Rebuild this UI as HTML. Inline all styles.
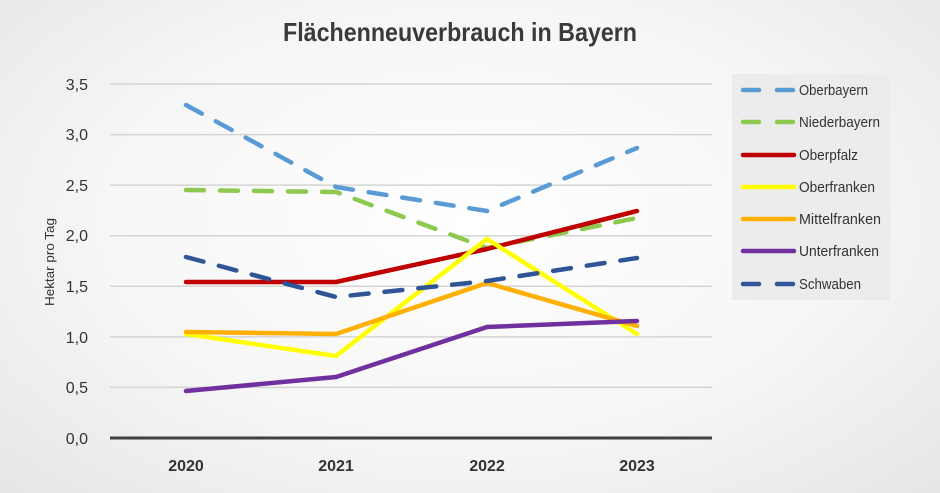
<!DOCTYPE html>
<html><head><meta charset="utf-8"><style>
html,body{margin:0;padding:0}
body{width:940px;height:493px;overflow:hidden;background:radial-gradient(ellipse at 50% 45%,#ffffff 0%,#f6f6f6 55%,#e6e6e6 100%);font-family:"Liberation Sans",sans-serif}
</style></head><body>
<svg width="940" height="493" xmlns="http://www.w3.org/2000/svg" style="position:absolute;left:0;top:0">
<text x="283" y="41" textLength="354" lengthAdjust="spacingAndGlyphs" font-size="26" font-weight="bold" fill="#3a3a3a" font-family="Liberation Sans, sans-serif">Flächenneuverbrauch in Bayern</text>
<g stroke="#d4d4d4" stroke-width="1.5">
<line x1="110" x2="712" y1="84" y2="84"/><line x1="110" x2="712" y1="134.6" y2="134.6"/><line x1="110" x2="712" y1="185.1" y2="185.1"/><line x1="110" x2="712" y1="235.7" y2="235.7"/><line x1="110" x2="712" y1="286.3" y2="286.3"/><line x1="110" x2="712" y1="336.9" y2="336.9"/><line x1="110" x2="712" y1="387.4" y2="387.4"/>
</g>
<line x1="110" x2="712" y1="438" y2="438" stroke="#404040" stroke-width="3"/>
<g font-size="16" fill="#333" text-anchor="end" font-family="Liberation Sans, sans-serif">
<text x="88" y="90">3,5</text><text x="88" y="140">3,0</text><text x="88" y="191">2,5</text><text x="88" y="241">2,0</text><text x="88" y="292">1,5</text><text x="88" y="343">1,0</text><text x="88" y="393">0,5</text><text x="88" y="444">0,0</text>
</g>
<g font-size="16" fill="#333" text-anchor="middle" font-weight="bold" font-family="Liberation Sans, sans-serif">
<text x="186" y="471">2020</text><text x="336" y="471">2021</text><text x="487" y="471">2022</text><text x="637" y="471">2023</text>
</g>
<text transform="translate(54,262) rotate(-90)" x="-44" textLength="88" lengthAdjust="spacingAndGlyphs" font-size="13" fill="#333" font-family="Liberation Sans, sans-serif">Hektar pro Tag</text>
<g fill="none" stroke-width="4.5" stroke-linecap="round" stroke-linejoin="round">
<polyline points="186,105 336,187 487,211 637,148" stroke="#5b9bd5" stroke-dasharray="18,16"/>
<polyline points="186,190 336,192 487,248 637,218" stroke="#8dc84f" stroke-dasharray="18,16"/>
<polyline points="186,282 336,282 487,249 637,211" stroke="#c00000"/>
<polyline points="186,334 336,356 487,239 637,334" stroke="#ffff00"/>
<polyline points="186,332 336,334 487,283 637,326" stroke="#ffb000"/>
<polyline points="186,391 336,377 487,327 637,321" stroke="#7030a0"/>
<polyline points="186,257 336,297 487,281 637,258" stroke="#2f5597" stroke-dasharray="18,16"/>
</g>
<rect x="732" y="74" width="158" height="226" fill="#ececec"/>
<g stroke-width="4.5" stroke-linecap="round">
<line x1="743" x2="759" y1="90" y2="90" stroke="#5b9bd5"/><line x1="777" x2="793" y1="90" y2="90" stroke="#5b9bd5"/>
<line x1="743" x2="759" y1="122" y2="122" stroke="#8dc84f"/><line x1="777" x2="793" y1="122" y2="122" stroke="#8dc84f"/>
<line x1="743" x2="794" y1="155" y2="155" stroke="#c00000"/>
<line x1="743" x2="794" y1="187" y2="187" stroke="#ffff00"/>
<line x1="743" x2="794" y1="219" y2="219" stroke="#ffb000"/>
<line x1="743" x2="794" y1="251" y2="251" stroke="#7030a0"/>
<line x1="743" x2="759" y1="284" y2="284" stroke="#2f5597"/><line x1="777" x2="793" y1="284" y2="284" stroke="#2f5597"/>
</g>
<g font-size="15" fill="#333" font-family="Liberation Sans, sans-serif">
<text x="799" y="95" textLength="69" lengthAdjust="spacingAndGlyphs">Oberbayern</text>
<text x="799" y="127" textLength="81" lengthAdjust="spacingAndGlyphs">Niederbayern</text>
<text x="799" y="160" textLength="59" lengthAdjust="spacingAndGlyphs">Oberpfalz</text>
<text x="799" y="192" textLength="76" lengthAdjust="spacingAndGlyphs">Oberfranken</text>
<text x="799" y="224" textLength="82" lengthAdjust="spacingAndGlyphs">Mittelfranken</text>
<text x="799" y="256" textLength="80" lengthAdjust="spacingAndGlyphs">Unterfranken</text>
<text x="799" y="289" textLength="62" lengthAdjust="spacingAndGlyphs">Schwaben</text>
</g>
</svg>
</body></html>
